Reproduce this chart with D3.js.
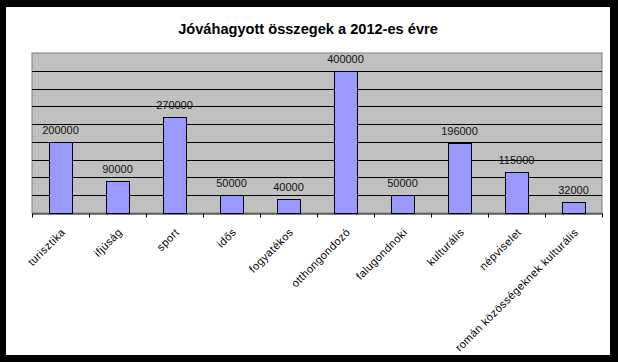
<!DOCTYPE html>
<html>
<head>
<meta charset="utf-8">
<script src="https://cdn.jsdelivr.net/npm/d3@7"></script>
<style>
  body { margin: 0; background: #000; }
  svg { display: block; }
  text { font-family: "Liberation Sans", Arial, sans-serif; }
</style>
</head>
<body>
<div></div>
<script>
//size of the svg
var width = 618;
var height = 362;

//categories and values of the chart
var categories = ["turisztika", "ifjúság", "sport", "idős", "fogyatékos",
                  "otthongondozó", "falugondnoki", "kulturális", "népviselet",
                  "román  közösségeknek kulturális"];
var values = [200000, 90000, 270000, 50000, 40000, 400000, 50000, 196000, 115000, 32000];

//gridline values
var gridTicks = [50000, 100000, 150000, 200000, 250000, 300000, 350000, 400000];
var yMax = 450000;

//plot area
var margin = {top: 53, right: 16, bottom: 149, left: 32};

var svg = d3.select("div")
            .append("svg")
            .attr("width", width)
            .attr("height", height);

//white chart area inside the black frame
svg.append("rect")
   .attr("x", 6)
   .attr("y", 7)
   .attr("width", 604)
   .attr("height", 348)
   .attr("fill", "#fff");

//title
svg.append("text")
   .text("Jóváhagyott összegek a 2012-es évre")
   .attr("x", 308)
   .attr("y", 34)
   .attr("text-anchor", "middle")
   .style("font-size", "14.6px")
   .style("font-weight", "bold");

var xScale = d3.scaleBand()
               .domain(categories)
               .range([margin.left, width - margin.right])
               .paddingInner(0.6)
               .paddingOuter(0.3);

var yScale = d3.scaleLinear()
               .domain([0, yMax])
               .range([height - margin.bottom, margin.top]);

//plot background
svg.append("rect")
   .attr("x", margin.left)
   .attr("y", margin.top)
   .attr("width", width - margin.left - margin.right)
   .attr("height", height - margin.top - margin.bottom)
   .attr("fill", "#c0c0c0")
   .attr("stroke", "#808080")
   .attr("stroke-width", 1);

//horizontal gridlines
svg.append("g")
   .selectAll("line")
   .data(gridTicks)
   .enter()
   .append("line")
   .attr("x1", margin.left)
   .attr("x2", width - margin.right)
   .attr("y1", function(d) { return Math.round(yScale(d)) + 0.5; })
   .attr("y2", function(d) { return Math.round(yScale(d)) + 0.5; })
   .attr("stroke", "#000")
   .attr("stroke-width", 1);

//bars
svg.append("g")
   .selectAll("rect")
   .data(values)
   .enter()
   .append("rect")
   .attr("x", function(d, i) { return Math.round(xScale(categories[i])) + 0.5; })
   .attr("y", function(d) { return Math.round(yScale(d)) + 0.5; })
   .attr("width", Math.round(xScale.bandwidth()))
   .attr("height", function(d) { return Math.round(yScale(0)) - Math.round(yScale(d)); })
   .attr("fill", "#9999ff")
   .attr("stroke", "#000")
   .attr("stroke-width", 1);

//value labels
svg.append("g")
   .selectAll("text")
   .data(values)
   .enter()
   .append("text")
   .text(function(d) { return d; })
   .attr("x", function(d, i) { return xScale(categories[i]) + xScale.bandwidth() / 2; })
   .attr("y", function(d) { return yScale(d) - 8; })
   .attr("text-anchor", "middle")
   .style("font-size", "11px")
   .style("fill", "#111");

//x axis with ticks between categories
var step = xScale.step();
var xAxis = d3.axisBottom(xScale)
              .tickSize(0)
              .tickFormat("");
var gx = svg.append("g")
            .attr("transform", "translate(0," + (Math.round(yScale(0)) + 0.5) + ")")
            .call(xAxis);
gx.select(".domain").attr("stroke", "#000");
gx.selectAll(".tick line").remove();
gx.selectAll("line.sep")
  .data(d3.range(categories.length + 1))
  .enter()
  .append("line")
  .attr("class", "sep")
  .attr("x1", function(i) { return Math.round(margin.left + i * step) + 0.5; })
  .attr("x2", function(i) { return Math.round(margin.left + i * step) + 0.5; })
  .attr("y1", 0)
  .attr("y2", 4)
  .attr("stroke", "#000");

//rotated category labels
gx.selectAll(".tick text")
  .text(function(d) { return d; })
  .attr("x", 0)
  .attr("y", 0)
  .attr("dy", "0.7em")
  .attr("transform", "translate(0,14) rotate(-45)")
  .attr("text-anchor", "end")
  .style("font-size", "11px")
  .style("letter-spacing", "0.4px")
  .style("fill", "#000");
</script>
</body>
</html>
